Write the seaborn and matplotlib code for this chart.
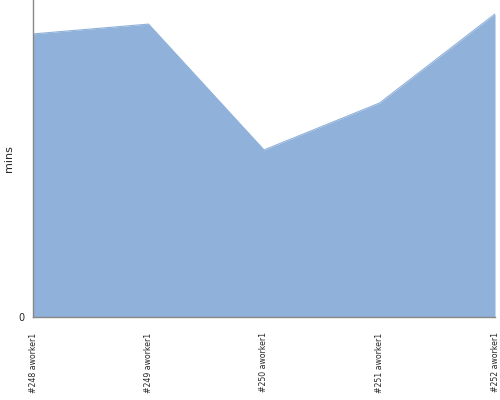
import pandas as pd
import matplotlib
matplotlib.use("Agg")
import matplotlib.pyplot as plt
import seaborn as sns

# builds and their durations (mins)
builds = ["#248 aworker1", "#249 aworker1", "#250 aworker1", "#251 aworker1", "#252 aworker1"]
mins = [8.93, 9.24, 5.27, 6.75, 9.56]
y_max = 10.0

df = pd.DataFrame({"build": builds, "mins": mins})
df["pos"] = range(len(df))

sns.set_style("white")
plt.rcParams['font.family'] = ['DejaVu Sans']

fig = plt.figure(figsize=(5, 4), dpi=100)
ax = fig.add_axes([0.066, 0.2075, 0.924, 0.7925])

fill = "#8FB1DA"
sns.lineplot(data=df, x="pos", y="mins", color=fill, linewidth=0.8, ax=ax)
ax.fill_between(df["pos"], df["mins"], 0, color=fill, linewidth=0)

ax.set_xlim(0, len(df) - 1)
ax.set_ylim(0, y_max)
ax.set_xticks(df["pos"])
ax.set_xticklabels(df["build"], rotation=90, fontsize=5.6)
ax.set_yticks([0])
ax.set_yticklabels(["0"], fontsize=7)
ax.set_xlabel("")
ax.set_ylabel("mins", fontsize=8, labelpad=3)
ax.tick_params(axis="x", length=0, pad=11)
ax.tick_params(axis="y", length=4, color="#888888", pad=2)

for s in ["top", "right"]:
    ax.spines[s].set_visible(False)
for s in ["left", "bottom"]:
    ax.spines[s].set_color("#888888")
    ax.spines[s].set_linewidth(1)

fig.savefig("out.png", dpi=100, facecolor="white")
